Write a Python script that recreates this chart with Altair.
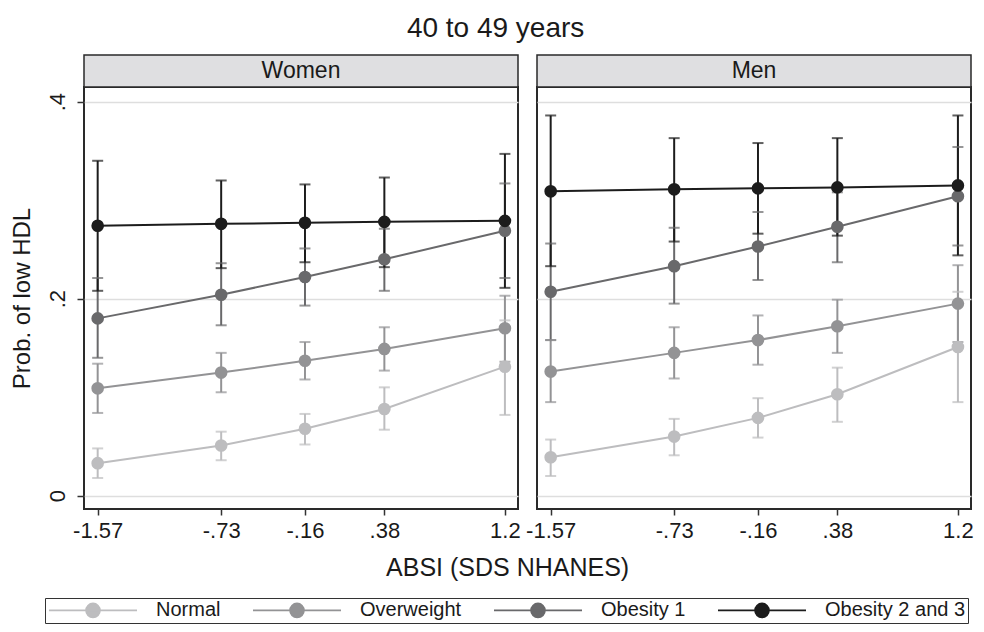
import altair as alt
import pandas as pd

# ---------------- data ----------------
absi = [-1.57, -0.73, -0.16, 0.38, 1.2]
absi_labels = ["-1.57", "-.73", "-.16", ".38", "1.2"]
groups = ["Normal", "Overweight", "Obesity 1", "Obesity 2 and 3"]
colors = ["#bdbdbf", "#939395", "#69696b", "#1c1c1c"]
y_ticks = [0, 0.2, 0.4]
y_tick_labels = ["0", ".2", ".4"]

# Women: estimates / lower CI / upper CI, one list per group
women_est = [
    [0.033, 0.051, 0.068, 0.088, 0.131],
    [0.109, 0.125, 0.137, 0.149, 0.170],
    [0.180, 0.204, 0.222, 0.240, 0.269],
    [0.274, 0.276, 0.277, 0.278, 0.279],
]
women_lo = [
    [0.018, 0.036, 0.052, 0.067, 0.082],
    [0.084, 0.105, 0.118, 0.127, 0.136],
    [0.140, 0.173, 0.193, 0.208, 0.221],
    [0.208, 0.231, 0.237, 0.232, 0.211],
]
women_hi = [
    [0.048, 0.065, 0.083, 0.110, 0.178],
    [0.134, 0.145, 0.156, 0.171, 0.203],
    [0.221, 0.236, 0.251, 0.271, 0.317],
    [0.340, 0.320, 0.316, 0.323, 0.347],
]
# Men
men_est = [
    [0.039, 0.060, 0.079, 0.103, 0.151],
    [0.126, 0.145, 0.158, 0.172, 0.195],
    [0.207, 0.233, 0.253, 0.273, 0.304],
    [0.309, 0.311, 0.312, 0.313, 0.315],
]
men_lo = [
    [0.020, 0.041, 0.059, 0.075, 0.095],
    [0.095, 0.119, 0.133, 0.145, 0.156],
    [0.158, 0.195, 0.219, 0.237, 0.254],
    [0.233, 0.258, 0.266, 0.264, 0.244],
]
men_hi = [
    [0.057, 0.078, 0.099, 0.130, 0.207],
    [0.158, 0.171, 0.183, 0.199, 0.234],
    [0.256, 0.272, 0.288, 0.308, 0.354],
    [0.386, 0.363, 0.358, 0.363, 0.386],
]

FONT = "Liberation Sans"
TXT = "#1a1a1a"
PW, PH = 434, 422
XDOM = [-1.663, 1.289]
YDOM = [-0.0135, 0.4149]


def frame(est, lo, hi):
    rows = []
    for gi, g in enumerate(groups):
        for xi, xv in enumerate(absi):
            rows.append({"absi": xv, "group": g, "order": gi,
                         "est": est[gi][xi], "lo": lo[gi][xi], "hi": hi[gi][xi]})
    return pd.DataFrame(rows)


def label_expr(vals, labs):
    parts = [f"datum.value == {v} ? '{l}'" for v, l in zip(vals, labs)]
    return " : ".join(parts) + " : ''"


# legend symbol: a line with a dot in the middle (wider than the nominal symbol box)
SYM = ("M-5.5,0H5.5M0.875,0A0.875,0.875,0,1,1,-0.875,0"
       "A0.875,0.875,0,1,1,0.875,0Z")

color_enc = alt.Color(
    "group:N",
    scale=alt.Scale(domain=groups, range=colors),
    legend=alt.Legend(
        title=None, orient="none", legendX=-39, legendY=511,
        direction="horizontal", columns=4,
        symbolType=SYM, symbolSize=256, symbolStrokeWidth=1.6, symbolOpacity=1,
        symbolOffset=36, labelOffset=53,
        labelFont=FONT, labelFontSize=20, labelColor=TXT,
        columnPadding=28, padding=2, strokeColor="#333",
    ),
)


def panel(est, lo, hi, name, show_y):
    df = frame(est, lo, hi)
    x = alt.X("absi:Q", scale=alt.Scale(domain=XDOM, nice=False, zero=False),
              axis=alt.Axis(values=absi, labelExpr=label_expr(absi, absi_labels),
                            title=None, grid=False, domain=False, tickSize=6,
                            tickColor="#333", tickWidth=1.5, labelFont=FONT,
                            labelFontSize=22, labelColor=TXT, labelPadding=5))
    if show_y:
        yaxis = alt.Axis(values=y_ticks, labelExpr=label_expr(y_ticks, y_tick_labels),
                         title="Prob. of low HDL", titleFont=FONT, titleFontSize=24,
                         titleFontWeight="normal", titleColor=TXT, titlePadding=12,
                         grid=True, gridColor="#dedede", gridWidth=1.5, domain=False,
                         tickSize=7, tickColor="#333", tickWidth=1.5, labelAngle=270,
                         labelAlign="center", labelBaseline="bottom", labelPadding=8,
                         labelFont=FONT, labelFontSize=22, labelColor=TXT)
    else:
        yaxis = alt.Axis(values=y_ticks, title=None, labels=False, ticks=False,
                         domain=False, grid=True, gridColor="#dedede", gridWidth=1.5,
                         minExtent=0, maxExtent=0)
    y_scale = alt.Scale(domain=YDOM, nice=False, zero=False)
    base = alt.Chart(df)
    bars = base.mark_rule(strokeWidth=2).encode(
        x=x, y=alt.Y("lo:Q", scale=y_scale, axis=yaxis), y2="hi:Q",
        color=color_enc, order="order:Q")
    caps_lo = base.mark_tick(orient="horizontal", size=11, thickness=2).encode(
        x="absi:Q", y="lo:Q", color=color_enc)
    caps_hi = base.mark_tick(orient="horizontal", size=11, thickness=2).encode(
        x="absi:Q", y="hi:Q", color=color_enc)
    lines = base.mark_line(strokeWidth=2).encode(
        x="absi:Q", y="est:Q", color=color_enc, detail="group:N")
    pts = base.mark_circle(size=160, opacity=1).encode(
        x="absi:Q", y="est:Q", color=color_enc)
    hdr_df = pd.DataFrame({"label": [name]})
    hdr = alt.Chart(hdr_df).mark_rect(fill="#dfdfe1", stroke="#2a2a2a", strokeWidth=1.5).encode(
        x=alt.value(0), x2=alt.value(PW), y=alt.value(-32), y2=alt.value(0))
    hdr_txt = alt.Chart(hdr_df).mark_text(font=FONT, fontSize=23, color=TXT,
                                          baseline="middle").encode(
        x=alt.value(PW / 2), y=alt.value(-16), text="label:N")
    return alt.layer(bars, caps_lo, caps_hi, lines, pts, hdr, hdr_txt).properties(
        width=PW, height=PH)


women = panel(women_est, women_lo, women_hi, "Women", True)
men = panel(men_est, men_lo, men_hi, "Men", False)

inner = alt.hconcat(women, men, spacing=19, bounds="flush").properties(
    title=alt.TitleParams("ABSI (SDS NHANES)", orient="bottom", anchor="middle",
                          font=FONT, fontSize=25, fontWeight="normal", color=TXT,
                          offset=14, dx=16))

chart = alt.vconcat(inner).properties(
    title=alt.TitleParams("40 to 49 years", font=FONT, fontSize=28,
                          fontWeight="normal", color=TXT, offset=10, anchor="middle",
                          dx=4),
    padding={"left": 1, "top": 7, "right": 0, "bottom": 0},
).configure(background="white").configure_view(stroke="#2a2a2a", strokeWidth=2)

chart.save("out.html", embed_options={"renderer": "svg", "actions": False})
